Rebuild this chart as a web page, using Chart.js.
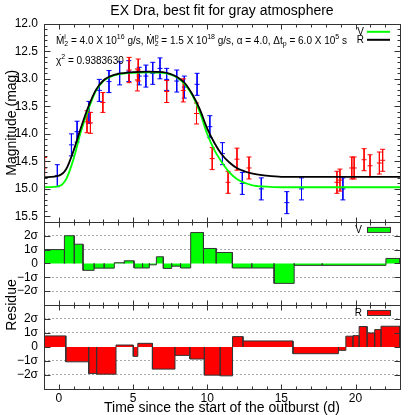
<!DOCTYPE html>
<html>
<head>
<meta charset="utf-8">
<script src="https://cdn.jsdelivr.net/npm/chart.js"></script>
<style>
  html, body { margin: 0; padding: 0; background: #fff; }
  #lc { display: block; }
</style>
</head>
<body>
<canvas id="lc" width="415" height="415"></canvas>
<script>
// V band (blue points): time since outburst start (d), magnitude, 1-sigma error, residual (sigma)
const vTime  = [-0.1, 0.85, 1.23, 2.03, 2.73, 3.38, 4.1, 4.72, 5.42, 5.87, 6.33, 6.82,
                7.27, 7.95, 8.46, 9.32, 10.18, 11.03, 12.37, 13.65, 15.37, 16.36, 19.15, 24.95];
const vMag   = [14.76, 14.2, 13.96, 13.61, 13.21, 13.05, 12.9, 12.86, 12.95, 12.95, 12.9, 12.81,
                13.01, 13.04, 13.15, 13.1, 13.87, 14.36, 14.9, 15.0, 15.25, 15.0, 15.0, 14.9];
const vErr   = [0.2, 0.2, 0.19, 0.2, 0.2, 0.2, 0.21, 0.19, 0.16, 0.2, 0.2, 0.19,
                0.2, 0.2, 0.2, 0.2, 0.2, 0.2, 0.2, 0.2, 0.2, 0.2, 0.2, 0.2];
const vResid = [1.0, 2.0, 1.39, -0.5, -0.34, -0.34, 0.05, 0.19, -0.33, -0.33, -0.1, 0.48,
                -0.36, -0.2, -0.33, 2.23, 1.08, 0.79, -0.33, -0.33, -1.44, -0.14, -0.14, 0.36];

// R band (red points)
const rTime  = [-0.96, 1.9, 2.13, 2.97, 4.74, 5.3, 5.35, 7.27, 8.39, 9.28, 10.34, 11.41,
                12.01, 12.82, 18.75, 18.95, 19.75, 19.91, 20.58, 20.98, 21.61, 21.83];
const rMag   = [14.62, 13.78, 13.8, 13.43, 12.84, 13.02, 12.84, 13.23, 13.21, 13.63, 14.45, 14.88,
                14.46, 14.62, 14.88, 14.84, 14.62, 14.62, 14.47, 14.58, 14.53, 14.48];
const rErr   = [0.19, 0.2, 0.19, 0.18, 0.23, 0.2, 0.2, 0.2, 0.21, 0.19, 0.2, 0.2,
                0.2, 0.2, 0.2, 0.2, 0.2, 0.2, 0.2, 0.2, 0.2, 0.2];
const rResid = [0.79, -1.06, -1.9, -1.94, 0.14, -0.67, 0.26, -1.58, -0.6, -0.86, -2.01, -2.06,
                0.74, 0.43, -0.48, -0.24, 0.77, 0.81, 1.46, 1.0, 1.24, 1.48];

// best-fit model light curves
const modelTime = [-1, 0, 0.5, 1, 1.5, 2, 2.5, 3, 3.5, 4, 5, 6, 7, 7.5, 8, 8.5, 9, 9.5,
                   10, 10.5, 11, 11.5, 12, 13, 14, 15, 17, 20, 23];
const modelV = [14.97, 14.95, 14.82, 14.45, 13.95, 13.55, 13.22, 13.04, 12.96, 12.92, 12.89, 12.88,
                12.89, 12.92, 12.98, 13.1, 13.3, 13.6, 14.0, 14.3, 14.52, 14.7, 14.82, 14.93,
                14.96, 14.97, 14.97, 14.97, 14.97];
const modelR = [14.79, 14.76, 14.64, 14.3, 13.88, 13.5, 13.2, 13.03, 12.95, 12.91, 12.88, 12.87,
                12.88, 12.91, 12.97, 13.08, 13.28, 13.55, 13.9, 14.17, 14.38, 14.52, 14.62, 14.72,
                14.76, 14.78, 14.78, 14.78, 14.78];

const X_MIN = -1, X_MAX = 23;
const BLUE = '#0000ff', RED = '#ff0000', LIME = '#00ff00';
const FONT = "'Liberation Sans', 'DejaVu Sans', Arial, sans-serif";

Chart.defaults.font.family = FONT;
Chart.defaults.color = '#000';

// vertical error bar: low end, value, high end, then a gap
function errorBars(t, m, e) {
    const pts = [];
    for (let i = 0; i < t.length; i++) {
        pts.push({x: t[i], y: m[i] - e[i]}, {x: t[i], y: m[i]}, {x: t[i], y: m[i] + e[i]}, {x: t[i], y: null});
    }
    return pts;
}

// boxes touching each other, edges halfway between neighbouring points
function residBoxes(t, res) {
    const pts = [];
    for (let i = 0; i < t.length; i++) {
        const left = i === 0 ? X_MIN : (t[i - 1] + t[i]) / 2;
        const right = i === t.length - 1 ? X_MAX : (t[i] + t[i + 1]) / 2;
        pts.push({x: left, y: 0}, {x: left, y: res[i]}, {x: right, y: res[i]}, {x: right, y: 0});
    }
    return pts;
}

const curve = (ys) => modelTime.map((t, i) => ({x: t, y: ys[i]}));

function sigmaLabel(v) {
    if (v === 0) return '0';
    if (Math.abs(v) > 2) return '';
    return (v < 0 ? '\u2212' : '') + Math.abs(v) + '\u03c3';
}

const residGrid = {
    drawTicks: false,
    color: c => (c.tick && Math.abs(c.tick.value) >= 1 && Math.abs(c.tick.value) <= 2) ? '#a8a8a8' : 'rgba(0,0,0,0)'
};

// panel frames with inward ticks
const framePlugin = {
    id: 'frame',
    afterDraw(chart) {
        const ctx = chart.ctx;
        const xs = chart.scales.x;
        const left = Math.round(chart.chartArea.left) + 0.5;
        const right = Math.round(chart.chartArea.right) + 0.5;
        const seg = (x1, y1, x2, y2) => { ctx.beginPath(); ctx.moveTo(x1, y1); ctx.lineTo(x2, y2); ctx.stroke(); };
        ctx.save();
        ctx.strokeStyle = '#333';
        ctx.lineWidth = 1;
        ['y', 'yV', 'yR'].forEach(id => {
            const s = chart.scales[id];
            const top = Math.round(s.top) + 0.5, bot = Math.round(s.bottom) + 0.5;
            ctx.strokeRect(left, top, right - left, bot - top);
            for (let v = X_MIN; v <= X_MAX; v++) {
                const px = Math.round(xs.getPixelForValue(v)) + 0.5;
                const len = v % 5 === 0 ? 5 : 3;
                seg(px, top, px, top + len);
                seg(px, bot, px, bot - len);
            }
            if (id === 'y') {
                for (let k = 120; k <= 156; k++) {
                    const py = Math.round(s.getPixelForValue(k / 10)) + 0.5;
                    const len = k % 5 === 0 ? 6 : 3;
                    seg(left, py, left + len, py);
                    seg(right, py, right - len, py);
                }
            } else {
                for (let v = -2; v <= 2; v++) {
                    const py = Math.round(s.getPixelForValue(v)) + 0.5;
                    seg(left, py, left + 6, py);
                    seg(right, py, right - 6, py);
                }
            }
        });
        ctx.restore();
    }
};

// text with sub/superscripts: {t}, {sup}, {sub}, or {sub, sup} stacked
function drawRich(ctx, x, y, parts) {
    const big = '10px ' + FONT, small = '7px ' + FONT;
    for (const p of parts) {
        if (p.t !== undefined) {
            ctx.font = big;
            ctx.fillText(p.t, x, y);
            x += ctx.measureText(p.t).width;
        } else {
            ctx.font = small;
            let w = 0;
            if (p.sup) { ctx.fillText(p.sup, x, y - 4.5); w = Math.max(w, ctx.measureText(p.sup).width); }
            if (p.sub) { ctx.fillText(p.sub, x, y + 2.5); w = Math.max(w, ctx.measureText(p.sub).width); }
            x += w;
        }
    }
}

const textPlugin = {
    id: 'texts',
    afterDraw(chart) {
        const ctx = chart.ctx;
        const area = chart.chartArea;
        const sy = chart.scales.y, sv = chart.scales.yV, sr = chart.scales.yR;
        ctx.save();
        ctx.fillStyle = '#000';
        ctx.textBaseline = 'alphabetic';
        ctx.textAlign = 'left';
        drawRich(ctx, area.left + 12, sy.top + 20, [
            {t: '\u1e40'}, {sub: '2', sup: 'i'}, {t: ' = 4.0 X 10'}, {sup: '16'}, {t: ' g/s, '},
            {t: '\u1e40'}, {sub: '2', sup: 'p'}, {t: ' = 1.5 X 10'}, {sup: '18'},
            {t: ' g/s, \u03b1 = 4.0, \u0394t'}, {sub: 'p'}, {t: ' = 6.0 X 10'}, {sup: '5'}, {t: ' s'}
        ]);
        drawRich(ctx, area.left + 12, sy.top + 40, [{t: '\u03c7'}, {sup: '2'}, {t: ' = 0.9383630'}]);

        // legends
        const lx1 = area.right - 33, lx2 = area.right - 10;
        ctx.font = '10px ' + FONT;
        ctx.textAlign = 'right';
        ctx.textBaseline = 'middle';
        ctx.fillText('V', lx1 - 3, sy.top + 8);
        ctx.fillText('R', lx1 - 3, sy.top + 16);
        ctx.lineWidth = 2;
        ctx.strokeStyle = LIME;
        ctx.beginPath(); ctx.moveTo(lx1, sy.top + 8); ctx.lineTo(lx2, sy.top + 8); ctx.stroke();
        ctx.strokeStyle = '#000';
        ctx.beginPath(); ctx.moveTo(lx1, sy.top + 16); ctx.lineTo(lx2, sy.top + 16); ctx.stroke();

        [[sv, 'V', LIME], [sr, 'R', RED]].forEach(([s, name, col]) => {
            const cy = s.top + 8;
            ctx.fillStyle = '#000';
            ctx.fillText(name, lx1 - 5, cy);
            ctx.fillStyle = col;
            ctx.fillRect(lx1, cy - 2, lx2 - lx1, 4);
            ctx.lineWidth = 1;
            ctx.strokeStyle = '#333';
            ctx.strokeRect(lx1 + 0.5, cy - 2.5, lx2 - lx1, 5);
        });

        // shared y title of the two residual panels
        ctx.fillStyle = '#000';
        ctx.font = '14px ' + FONT;
        ctx.textAlign = 'center';
        ctx.translate(12.4, sv.bottom);
        ctx.rotate(-Math.PI / 2);
        ctx.fillText('Residue', 0, 0);
        ctx.restore();
    }
};

new Chart(document.getElementById('lc'), {
    type: 'line',
    data: {
        datasets: [
            { label: 'R model', data: curve(modelR), yAxisID: 'y', borderColor: '#000', borderWidth: 1.8,
              pointRadius: 0, cubicInterpolationMode: 'monotone' },
            { label: 'V model', data: curve(modelV), yAxisID: 'y', borderColor: LIME, borderWidth: 1.8,
              pointRadius: 0, cubicInterpolationMode: 'monotone' },
            { label: 'R', data: errorBars(rTime, rMag, rErr), yAxisID: 'y', borderColor: RED, borderWidth: 1,
              pointStyle: 'line', pointRadius: 2.5, pointBorderColor: RED, pointBorderWidth: 1, spanGaps: false },
            { label: 'V', data: errorBars(vTime, vMag, vErr), yAxisID: 'y', borderColor: BLUE, borderWidth: 1,
              pointStyle: 'line', pointRadius: 2.5, pointBorderColor: BLUE, pointBorderWidth: 1, spanGaps: false },
            { label: 'V residue', data: residBoxes(vTime, vResid), yAxisID: 'yV', borderColor: '#333', borderWidth: 1,
              backgroundColor: LIME, fill: 'origin', pointRadius: 0 },
            { label: 'R residue', data: residBoxes(rTime, rResid), yAxisID: 'yR', borderColor: '#333', borderWidth: 1,
              backgroundColor: RED, fill: 'origin', pointRadius: 0 }
        ]
    },
    options: {
        responsive: false,
        animation: false,
        devicePixelRatio: 1,
        layout: { padding: { left: 0, right: 15, top: 0, bottom: 0 } },
        plugins: {
            legend: { display: false },
            tooltip: { enabled: false },
            title: { display: true, text: 'EX Dra, best fit for gray atmosphere', fullSize: false,
                     font: { size: 14, weight: 'normal' }, padding: { top: 3, bottom: 4 } }
        },
        scales: {
            x: {
                type: 'linear', position: 'bottom', min: X_MIN, max: X_MAX,
                ticks: { stepSize: 5, includeBounds: false, padding: 2, maxRotation: 0, font: { size: 12 } },
                grid: { display: false, drawTicks: false }, border: { display: false },
                title: { display: true, text: 'Time since the start of the outburst (d)',
                         font: { size: 14, lineHeight: 1 }, padding: 0 },
                afterFit: s => { s.height = 26; }
            },
            y: {
                type: 'linear', position: 'left', stack: 'panels', stackWeight: 198, weight: 3,
                reverse: true, min: 12, max: 15.6,
                ticks: { stepSize: 0.5, includeBounds: false, autoSkip: false, padding: 6, font: { size: 12 } },
                grid: { display: false, drawTicks: false }, border: { display: false },
                title: { display: true, text: 'Magnitude (mag)', font: { size: 14 }, padding: { top: 4, bottom: 0 } },
                afterFit: s => { s.width = 44; }
            },
            yV: {
                type: 'linear', position: 'left', stack: 'panels', stackWeight: 83, weight: 2, min: -3, max: 3,
                ticks: { stepSize: 1, autoSkip: false, padding: 6, font: { size: 12 }, callback: sigmaLabel },
                grid: residGrid, border: { display: false, dash: [2, 2] },
                afterFit: s => { s.width = 44; }
            },
            yR: {
                type: 'linear', position: 'left', stack: 'panels', stackWeight: 84, weight: 1, min: -3, max: 3,
                ticks: { stepSize: 1, autoSkip: false, padding: 6, font: { size: 12 }, callback: sigmaLabel },
                grid: residGrid, border: { display: false, dash: [2, 2] },
                afterFit: s => { s.width = 44; }
            }
        }
    },
    plugins: [framePlugin, textPlugin]
});
</script>
</body>
</html>
